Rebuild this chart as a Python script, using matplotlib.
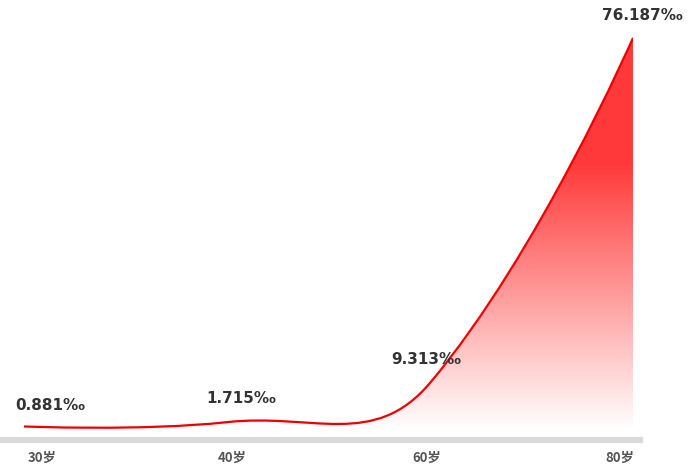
import numpy as np
import matplotlib
matplotlib.use("Agg")
import matplotlib.pyplot as plt
from matplotlib.lines import Line2D
from matplotlib.path import Path
from matplotlib.patches import PathPatch

plt.rcParams['font.family'] = ['Noto Sans CJK SC', 'DejaVu Sans']

ages = ['30岁', '40岁', '60岁', '80岁']
rates = [0.881, 1.715, 9.313, 76.187]
rate_labels = ['0.881‰', '1.715‰', '9.313‰', '76.187‰']

W, H = 691, 474
fig = plt.figure(figsize=(W / 100, H / 100), dpi=100)
# axes placed so category 0..3 spans px 24..633 and value 0 sits at px 431
ax = fig.add_axes([24 / W, 43 / H, 609 / W, 412.8 / H])
ax.set_xlim(0, 3)
ax.set_ylim(0, 80)
ax.axis('off')

x = np.arange(len(rates), dtype=float)
y = np.array(rates)

# smooth bezier through the points, computed in pixel space
sx = 609 / 3.0
sy = 412.8 / 80.0
P = np.column_stack([x * sx, y * sy])
n = len(P)
cps = []
for i in range(n):
    if i == 0 or i == n - 1:
        cps.append((P[i], P[i]))
        continue
    a = P[i] - P[i - 1]
    b = P[i + 1] - P[i]
    la, lb = np.linalg.norm(a), np.linalg.norm(b)
    r = lb / (la + lb)
    d = r * b + (1 - r) * a
    u = d / np.linalg.norm(d)
    cps.append((P[i] - u * la * 0.42, P[i] + u * lb * 0.42))

verts = [P[0]]
codes = [Path.MOVETO]
for i in range(n - 1):
    verts += [cps[i][1], cps[i + 1][0], P[i + 1]]
    codes += [Path.CURVE4] * 3
verts = np.array(verts) / np.array([sx, sy])

line_path = Path(verts, codes)
area_verts = np.vstack([verts, [[x[-1], 0], [x[0], 0], verts[0]]])
area_codes = codes + [Path.LINETO, Path.LINETO, Path.CLOSEPOLY]
area_path = Path(area_verts, area_codes)

# vertical gradient fill: strong red at top, fading to white at the base
ymax = y.max()
f = np.linspace(0, 1, 256)[:, None]
alpha = np.clip(f / 0.68, 0, 1) * 0.78
grad = np.ones((256, 2, 4))
grad[..., 0] = 1.0
grad[..., 1] = 0.0
grad[..., 2] = 0.0
grad[..., 3] = alpha
im = ax.imshow(grad, extent=(x[0], x[-1], 0, ymax), origin='lower',
               aspect='auto', interpolation='bilinear', zorder=1)
clip = PathPatch(area_path, facecolor='none', edgecolor='none', transform=ax.transData)
ax.add_patch(clip)
im.set_clip_path(clip)

ax.add_patch(PathPatch(line_path, facecolor='none', edgecolor='#ee0000', lw=1.6, zorder=3))

# value labels
offsets = [(26, 21), (14, 24), (-4, 23), (9, 22)]
for i, (lab, off) in enumerate(zip(rate_labels, offsets)):
    ax.annotate(lab, (x[i], y[i]), xytext=off, textcoords='offset pixels',
                ha='center', va='center', fontsize=11, fontweight='bold',
                color='#333333', family=['DejaVu Sans'], annotation_clip=False)

# axis bar
fig.add_artist(Line2D([0, 643 / W], [(H - 440) / H] * 2, color='#d9d9d9', lw=4.3,
                      solid_capstyle='butt'))

# category labels
xoffs = [18, 5, -3, -13]
for i, (lab, dx) in enumerate(zip(ages, xoffs)):
    ax.annotate(lab, (x[i], 0), xytext=(dx, -27), textcoords='offset pixels',
                ha='center', va='center', fontsize=9.5, fontweight='bold',
                color='#555555', annotation_clip=False)

fig.savefig('out.png', dpi=100)
